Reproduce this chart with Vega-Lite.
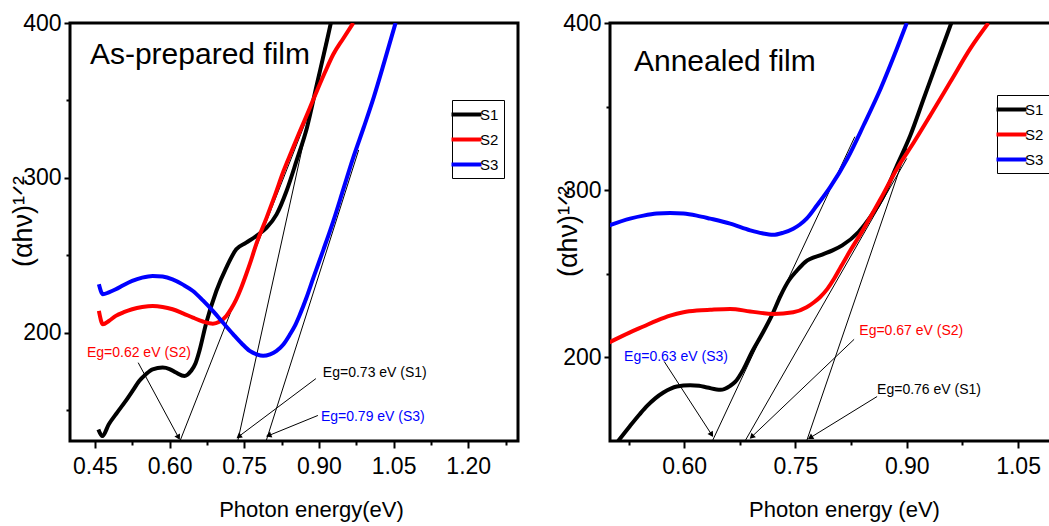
{
  "$schema": "https://vega.github.io/schema/vega-lite/v6.json",
  "background": "white",
  "padding": {"left": 7, "top": 10, "right": 0, "bottom": 0},
  "spacing": 32,
  "config": {
    "view": {"stroke": "black", "strokeWidth": 3},
    "font": "Liberation Sans",
    "axis": {"grid": false, "domain": false, "tickColor": "black", "tickWidth": 2, "labelColor": "black", "labelFont": "Liberation Sans", "labelFontSize": 23, "labelOverlap": false, "titleColor": "black", "titleFontWeight": "normal"}
  },
  "resolve": {"scale": {"color": "independent"}, "legend": {"color": "independent"}},
  "datasets": {
    "lc": [
      {"s":"S1","E":0.457,"v":137.5},{"s":"S1","E":0.465,"v":133.2},{"s":"S1","E":0.478,"v":140.8},{"s":"S1","E":0.495,"v":148.5},{"s":"S1","E":0.512,"v":155.9},{"s":"S1","E":0.526,"v":162.5},{"s":"S1","E":0.539,"v":168.8},{"s":"S1","E":0.552,"v":173},{"s":"S1","E":0.566,"v":176.3},{"s":"S1","E":0.586,"v":177.4},{"s":"S1","E":0.6,"v":176.5},{"s":"S1","E":0.613,"v":174.2},{"s":"S1","E":0.63,"v":172},{"s":"S1","E":0.643,"v":175.2},{"s":"S1","E":0.652,"v":180},{"s":"S1","E":0.66,"v":188.2},{"s":"S1","E":0.673,"v":205.4},{"s":"S1","E":0.694,"v":226.9},{"s":"S1","E":0.714,"v":242},{"s":"S1","E":0.734,"v":253.8},{"s":"S1","E":0.754,"v":258.1},{"s":"S1","E":0.774,"v":262.4},{"s":"S1","E":0.795,"v":267.8},{"s":"S1","E":0.815,"v":276.4},{"s":"S1","E":0.835,"v":291.5},{"s":"S1","E":0.855,"v":310.9},{"s":"S1","E":0.876,"v":332.4},{"s":"S1","E":0.896,"v":360.4},{"s":"S1","E":0.916,"v":388.4},{"s":"S1","E":0.924,"v":400},
      {"s":"S2","E":0.458,"v":214},{"s":"S2","E":0.466,"v":205.4},{"s":"S2","E":0.478,"v":207.5},{"s":"S2","E":0.492,"v":210.8},{"s":"S2","E":0.508,"v":213.2},{"s":"S2","E":0.525,"v":215.1},{"s":"S2","E":0.545,"v":216.5},{"s":"S2","E":0.566,"v":217.2},{"s":"S2","E":0.586,"v":216.6},{"s":"S2","E":0.606,"v":215.1},{"s":"S2","E":0.627,"v":212.5},{"s":"S2","E":0.647,"v":209.7},{"s":"S2","E":0.667,"v":207.2},{"s":"S2","E":0.687,"v":205.8},{"s":"S2","E":0.7,"v":207},{"s":"S2","E":0.714,"v":210.8},{"s":"S2","E":0.724,"v":215.5},{"s":"S2","E":0.734,"v":221.5},{"s":"S2","E":0.744,"v":229},{"s":"S2","E":0.754,"v":237.7},{"s":"S2","E":0.764,"v":247},{"s":"S2","E":0.774,"v":257},{"s":"S2","E":0.795,"v":274.3},{"s":"S2","E":0.812,"v":289},{"s":"S2","E":0.829,"v":304.4},{"s":"S2","E":0.845,"v":317},{"s":"S2","E":0.862,"v":330.2},{"s":"S2","E":0.879,"v":343},{"s":"S2","E":0.896,"v":356.1},{"s":"S2","E":0.912,"v":368},{"s":"S2","E":0.929,"v":379.8},{"s":"S2","E":0.949,"v":390},{"s":"S2","E":0.969,"v":400},
      {"s":"S3","E":0.458,"v":231.2},{"s":"S3","E":0.466,"v":224.8},{"s":"S3","E":0.478,"v":226},{"s":"S3","E":0.492,"v":228},{"s":"S3","E":0.508,"v":230.8},{"s":"S3","E":0.525,"v":233.4},{"s":"S3","E":0.545,"v":235.5},{"s":"S3","E":0.566,"v":236.6},{"s":"S3","E":0.586,"v":236.2},{"s":"S3","E":0.606,"v":234.4},{"s":"S3","E":0.627,"v":231},{"s":"S3","E":0.647,"v":226.9},{"s":"S3","E":0.667,"v":220.8},{"s":"S3","E":0.687,"v":214},{"s":"S3","E":0.708,"v":206.2},{"s":"S3","E":0.728,"v":198.9},{"s":"S3","E":0.745,"v":193},{"s":"S3","E":0.761,"v":188.2},{"s":"S3","E":0.775,"v":186},{"s":"S3","E":0.788,"v":185},{"s":"S3","E":0.802,"v":186},{"s":"S3","E":0.815,"v":188.2},{"s":"S3","E":0.829,"v":192.5},{"s":"S3","E":0.842,"v":198.9},{"s":"S3","E":0.852,"v":204.5},{"s":"S3","E":0.862,"v":211.8},{"s":"S3","E":0.875,"v":222.5},{"s":"S3","E":0.889,"v":235.5},{"s":"S3","E":0.909,"v":253.5},{"s":"S3","E":0.929,"v":272.1},{"s":"S3","E":0.949,"v":292.5},{"s":"S3","E":0.969,"v":313},{"s":"S3","E":0.99,"v":332.5},{"s":"S3","E":1.01,"v":351.8},{"s":"S3","E":1.032,"v":375.5},{"s":"S3","E":1.054,"v":400}
    ],
    "rc": [
      {"s":"S1","E":0.511,"v":150},{"s":"S1","E":0.527,"v":159},{"s":"S1","E":0.54,"v":166},{"s":"S1","E":0.55,"v":171},{"s":"S1","E":0.561,"v":175.5},{"s":"S1","E":0.572,"v":179},{"s":"S1","E":0.59,"v":182.6},{"s":"S1","E":0.608,"v":183.4},{"s":"S1","E":0.62,"v":183},{"s":"S1","E":0.631,"v":182},{"s":"S1","E":0.649,"v":180.6},{"s":"S1","E":0.662,"v":183},{"s":"S1","E":0.669,"v":185.5},{"s":"S1","E":0.68,"v":193},{"s":"S1","E":0.691,"v":203},{"s":"S1","E":0.705,"v":214},{"s":"S1","E":0.718,"v":225},{"s":"S1","E":0.73,"v":237},{"s":"S1","E":0.741,"v":246},{"s":"S1","E":0.752,"v":252},{"s":"S1","E":0.763,"v":257},{"s":"S1","E":0.786,"v":261.5},{"s":"S1","E":0.8,"v":264},{"s":"S1","E":0.813,"v":267},{"s":"S1","E":0.835,"v":275},{"s":"S1","E":0.851,"v":284},{"s":"S1","E":0.869,"v":297},{"s":"S1","E":0.887,"v":315},{"s":"S1","E":0.905,"v":333},{"s":"S1","E":0.923,"v":355},{"s":"S1","E":0.941,"v":377},{"s":"S1","E":0.96,"v":400},
      {"s":"S2","E":0.499,"v":209},{"s":"S2","E":0.527,"v":215},{"s":"S2","E":0.545,"v":218.5},{"s":"S2","E":0.563,"v":222},{"s":"S2","E":0.581,"v":225},{"s":"S2","E":0.599,"v":227},{"s":"S2","E":0.617,"v":228},{"s":"S2","E":0.635,"v":228.5},{"s":"S2","E":0.662,"v":229},{"s":"S2","E":0.689,"v":227.5},{"s":"S2","E":0.72,"v":226},{"s":"S2","E":0.747,"v":227},{"s":"S2","E":0.765,"v":230},{"s":"S2","E":0.775,"v":233},{"s":"S2","E":0.783,"v":236},{"s":"S2","E":0.793,"v":241},{"s":"S2","E":0.802,"v":247},{"s":"S2","E":0.811,"v":254},{"s":"S2","E":0.82,"v":261},{"s":"S2","E":0.842,"v":277},{"s":"S2","E":0.865,"v":295},{"s":"S2","E":0.887,"v":313},{"s":"S2","E":0.91,"v":329},{"s":"S2","E":0.932,"v":345},{"s":"S2","E":0.959,"v":365},{"s":"S2","E":0.986,"v":385},{"s":"S2","E":1.01,"v":400},
      {"s":"S3","E":0.499,"v":279},{"s":"S3","E":0.527,"v":283},{"s":"S3","E":0.545,"v":284.8},{"s":"S3","E":0.563,"v":286},{"s":"S3","E":0.581,"v":286.3},{"s":"S3","E":0.599,"v":286},{"s":"S3","E":0.617,"v":284.8},{"s":"S3","E":0.635,"v":283},{"s":"S3","E":0.662,"v":280},{"s":"S3","E":0.689,"v":276},{"s":"S3","E":0.705,"v":274.2},{"s":"S3","E":0.72,"v":273.3},{"s":"S3","E":0.733,"v":274.5},{"s":"S3","E":0.747,"v":277},{"s":"S3","E":0.756,"v":279.5},{"s":"S3","E":0.765,"v":283},{"s":"S3","E":0.779,"v":291},{"s":"S3","E":0.797,"v":302},{"s":"S3","E":0.82,"v":319},{"s":"S3","E":0.842,"v":339},{"s":"S3","E":0.865,"v":361},{"s":"S3","E":0.887,"v":385},{"s":"S3","E":0.9,"v":400}
    ],
    "lt": [
      {"x1":0.621,"y1":130,"x2":0.927,"y2":380},
      {"x1":0.737,"y1":130,"x2":0.915,"y2":390},
      {"x1":0.794,"y1":130,"x2":0.98,"y2":318}
    ],
    "rt": [
      {"x1":0.638,"y1":150,"x2":0.83,"y2":332},
      {"x1":0.682,"y1":150,"x2":0.9,"y2":319},
      {"x1":0.765,"y1":150,"x2":0.9,"y2":325}
    ],
    "la": [
      {"id":"S2","x1":0.537,"y1":180.6,"x2":0.618,"y2":132.3},
      {"id":"S1","x1":0.894,"y1":170.3,"x2":0.739,"y2":132.9},
      {"id":"S3","x1":0.898,"y1":146.5,"x2":0.799,"y2":133.5}
    ],
    "ra": [
      {"id":"S3","x1":0.573,"y1":197.6,"x2":0.637,"y2":153.8},
      {"id":"S2","x1":0.829,"y1":210.8,"x2":0.691,"y2":152.5},
      {"id":"S1","x1":0.86,"y1":176.6,"x2":0.77,"y2":152}
    ],
    "ll": [
      {"s":"S2","t":"Eg=0.62 eV (S2)","E":0.434,"v":187},
      {"s":"S1","t":"Eg=0.73 eV (S1)","E":0.908,"v":174.2},
      {"s":"S3","t":"Eg=0.79 eV (S3)","E":0.904,"v":145.2}
    ],
    "rl": [
      {"s":"S3","t":"Eg=0.63 eV (S3)","E":0.519,"v":200.3},
      {"s":"S2","t":"Eg=0.67 eV (S2)","E":0.836,"v":215.6},
      {"s":"S1","t":"Eg=0.76 eV (S1)","E":0.86,"v":180.8}
    ]
  },
  "hconcat": [
    {
      "width": 448,
      "height": 418,
      "layer": [
        {"data": {"name": "lt"}, "mark": {"type": "rule", "color": "black", "strokeWidth": 1},
         "encoding": {"x": {"field": "x1", "type": "quantitative", "scale": {"domain": [0.4, 1.3], "nice": false, "zero": false}},
                      "y": {"field": "y1", "type": "quantitative", "scale": {"domain": [130, 400], "nice": false, "zero": false}},
                      "x2": {"field": "x2"}, "y2": {"field": "y2"}}},
        {"data": {"name": "la"}, "mark": {"type": "rule", "color": "black", "strokeWidth": 1},
         "encoding": {"x": {"field": "x1", "type": "quantitative", "scale": {"domain": [0.4, 1.3], "nice": false, "zero": false}},
                      "y": {"field": "y1", "type": "quantitative", "scale": {"domain": [130, 400], "nice": false, "zero": false}},
                      "x2": {"field": "x2"}, "y2": {"field": "y2"}}},
        {"data": {"name": "la"}, "transform": [{"filter": "datum.id == 'S2'"}], "mark": {"type": "point", "shape": "triangle-right", "filled": true, "color": "black", "opacity": 1, "size": 40, "angle": 62},
         "encoding": {"x": {"field": "x2", "type": "quantitative", "scale": {"domain": [0.4, 1.3], "nice": false, "zero": false}},
                      "y": {"field": "y2", "type": "quantitative", "scale": {"domain": [130, 400], "nice": false, "zero": false}}}},
        {"data": {"name": "la"}, "transform": [{"filter": "datum.id == 'S1'"}], "mark": {"type": "point", "shape": "triangle-right", "filled": true, "color": "black", "opacity": 1, "size": 40, "angle": 143},
         "encoding": {"x": {"field": "x2", "type": "quantitative", "scale": {"domain": [0.4, 1.3], "nice": false, "zero": false}},
                      "y": {"field": "y2", "type": "quantitative", "scale": {"domain": [130, 400], "nice": false, "zero": false}}}},
        {"data": {"name": "la"}, "transform": [{"filter": "datum.id == 'S3'"}], "mark": {"type": "point", "shape": "triangle-right", "filled": true, "color": "black", "opacity": 1, "size": 40, "angle": 158},
         "encoding": {"x": {"field": "x2", "type": "quantitative", "scale": {"domain": [0.4, 1.3], "nice": false, "zero": false}},
                      "y": {"field": "y2", "type": "quantitative", "scale": {"domain": [130, 400], "nice": false, "zero": false}}}},
        {"data": {"name": "lc"}, "mark": {"type": "line", "strokeWidth": 4, "interpolate": "monotone", "clip": true},
         "encoding": {
           "x": {"field": "E", "type": "quantitative", "scale": {"domain": [0.4, 1.3], "nice": false, "zero": false},
                 "axis": {"values": [0.45, 0.525, 0.6, 0.675, 0.75, 0.825, 0.9, 0.975, 1.05, 1.125, 1.2, 1.275], "format": ".2f",
                          "labelExpr": "round(datum.value*200) % 30 == 0 ? datum.label : ''",
                          "tickSize": {"condition": {"test": "round(datum.value*200) % 30 == 0", "value": 7}, "value": 4},
                          "labelPadding": 7, "title": "Photon energy(eV)", "titleFont": "Liberation Sans", "titleFontSize": 22,
                          "titleX": 241, "titleY": 75, "titleBaseline": "alphabetic", "titleAlign": "center"}},
           "y": {"field": "v", "type": "quantitative", "scale": {"domain": [130, 400], "nice": false, "zero": false},
                 "axis": {"values": [150, 200, 250, 300, 350, 400],
                          "labelExpr": "datum.value % 100 == 0 ? datum.label : ''",
                          "tickSize": {"condition": {"test": "datum.value % 100 == 0", "value": 6}, "value": 4},
                          "labelPadding": 3, "title": "(αhν)¹ᐟ²", "titleFont": "Liberation Sans", "titleFontSize": 27,
                          "titleX": -47, "titleY": 198, "titleAngle": 270, "titleAlign": "center", "titleBaseline": "middle"}},
           "color": {"field": "s", "type": "nominal", "scale": {"domain": ["S1", "S2", "S3"], "range": ["#000000", "#ff0000", "#0000ff"]},
                     "legend": {"orient": "none", "legendX": 382, "legendY": 77, "title": null, "symbolType": "M-2,0H2", "symbolSize": 225, "symbolStrokeWidth": 4,
                                "labelFont": "Liberation Sans", "labelFontSize": 15, "labelColor": "black", "labelOffset": 4,
                                "strokeColor": "black", "fillColor": "white", "padding": 5, "rowPadding": 7}}
         }},
        {"data": {"name": "ll"}, "mark": {"type": "text", "align": "left", "baseline": "middle", "fontSize": 14, "font": "Liberation Sans"},
         "encoding": {"x": {"field": "E", "type": "quantitative", "scale": {"domain": [0.4, 1.3], "nice": false, "zero": false}},
                      "y": {"field": "v", "type": "quantitative", "scale": {"domain": [130, 400], "nice": false, "zero": false}},
                      "text": {"field": "t"},
                      "color": {"field": "s", "type": "nominal", "scale": {"domain": ["S1", "S2", "S3"], "range": ["#000000", "#ff0000", "#0000ff"]}, "legend": null}}},
        {"data": {"values": [{"t": "As-prepared film", "E": 0.44, "v": 373.5}]}, "mark": {"type": "text", "align": "left", "baseline": "alphabetic", "fontSize": 30, "font": "Liberation Sans", "color": "black"},
         "encoding": {"x": {"field": "E", "type": "quantitative", "scale": {"domain": [0.4, 1.3], "nice": false, "zero": false}},
                      "y": {"field": "v", "type": "quantitative", "scale": {"domain": [130, 400], "nice": false, "zero": false}},
                      "text": {"field": "t"}}}
      ]
    },
    {
      "width": 460,
      "height": 418,
      "layer": [
        {"data": {"name": "rt"}, "mark": {"type": "rule", "color": "black", "strokeWidth": 1},
         "encoding": {"x": {"field": "x1", "type": "quantitative", "scale": {"domain": [0.5, 1.12], "nice": false, "zero": false}},
                      "y": {"field": "y1", "type": "quantitative", "scale": {"domain": [150, 400], "nice": false, "zero": false}},
                      "x2": {"field": "x2"}, "y2": {"field": "y2"}}},
        {"data": {"name": "ra"}, "mark": {"type": "rule", "color": "black", "strokeWidth": 1},
         "encoding": {"x": {"field": "x1", "type": "quantitative", "scale": {"domain": [0.5, 1.12], "nice": false, "zero": false}},
                      "y": {"field": "y1", "type": "quantitative", "scale": {"domain": [150, 400], "nice": false, "zero": false}},
                      "x2": {"field": "x2"}, "y2": {"field": "y2"}}},
        {"data": {"name": "ra"}, "transform": [{"filter": "datum.id == 'S3'"}], "mark": {"type": "point", "shape": "triangle-right", "filled": true, "color": "black", "opacity": 1, "size": 40, "angle": 57},
         "encoding": {"x": {"field": "x2", "type": "quantitative", "scale": {"domain": [0.5, 1.12], "nice": false, "zero": false}},
                      "y": {"field": "y2", "type": "quantitative", "scale": {"domain": [150, 400], "nice": false, "zero": false}}}},
        {"data": {"name": "ra"}, "transform": [{"filter": "datum.id == 'S2'"}], "mark": {"type": "point", "shape": "triangle-right", "filled": true, "color": "black", "opacity": 1, "size": 40, "angle": 136},
         "encoding": {"x": {"field": "x2", "type": "quantitative", "scale": {"domain": [0.5, 1.12], "nice": false, "zero": false}},
                      "y": {"field": "y2", "type": "quantitative", "scale": {"domain": [150, 400], "nice": false, "zero": false}}}},
        {"data": {"name": "ra"}, "transform": [{"filter": "datum.id == 'S1'"}], "mark": {"type": "point", "shape": "triangle-right", "filled": true, "color": "black", "opacity": 1, "size": 40, "angle": 148},
         "encoding": {"x": {"field": "x2", "type": "quantitative", "scale": {"domain": [0.5, 1.12], "nice": false, "zero": false}},
                      "y": {"field": "y2", "type": "quantitative", "scale": {"domain": [150, 400], "nice": false, "zero": false}}}},
        {"data": {"name": "rc"}, "mark": {"type": "line", "strokeWidth": 4, "interpolate": "monotone", "clip": true},
         "encoding": {
           "x": {"field": "E", "type": "quantitative", "scale": {"domain": [0.5, 1.12], "nice": false, "zero": false},
                 "axis": {"values": [0.525, 0.6, 0.675, 0.75, 0.825, 0.9, 0.975, 1.05], "format": ".2f",
                          "labelExpr": "round(datum.value*200) % 30 == 0 ? datum.label : ''",
                          "tickSize": {"condition": {"test": "round(datum.value*200) % 30 == 0", "value": 7}, "value": 4},
                          "labelPadding": 7, "title": "Photon energy (eV)", "titleFont": "Liberation Sans", "titleFontSize": 22,
                          "titleX": 234, "titleY": 75, "titleBaseline": "alphabetic", "titleAlign": "center"}},
           "y": {"field": "v", "type": "quantitative", "scale": {"domain": [150, 400], "nice": false, "zero": false},
                 "axis": {"values": [200, 250, 300, 350, 400],
                          "labelExpr": "datum.value % 100 == 0 ? datum.label : ''",
                          "tickSize": {"condition": {"test": "datum.value % 100 == 0", "value": 6}, "value": 4},
                          "labelPadding": 3, "title": "(αhν)¹ᐟ²", "titleFont": "Liberation Sans", "titleFontSize": 27,
                          "titleX": -42, "titleY": 208, "titleAngle": 270, "titleAlign": "center", "titleBaseline": "middle"}},
           "color": {"field": "s", "type": "nominal", "scale": {"domain": ["S1", "S2", "S3"], "range": ["#000000", "#ff0000", "#0000ff"]},
                     "legend": {"orient": "none", "legendX": 387, "legendY": 72, "title": null, "symbolType": "M-2,0H2", "symbolSize": 225, "symbolStrokeWidth": 4,
                                "labelFont": "Liberation Sans", "labelFontSize": 15, "labelColor": "black", "labelOffset": 4,
                                "strokeColor": "black", "fillColor": "white", "padding": 5, "rowPadding": 7}}
         }},
        {"data": {"name": "rl"}, "mark": {"type": "text", "align": "left", "baseline": "middle", "fontSize": 14, "font": "Liberation Sans"},
         "encoding": {"x": {"field": "E", "type": "quantitative", "scale": {"domain": [0.5, 1.12], "nice": false, "zero": false}},
                      "y": {"field": "v", "type": "quantitative", "scale": {"domain": [150, 400], "nice": false, "zero": false}},
                      "text": {"field": "t"},
                      "color": {"field": "s", "type": "nominal", "scale": {"domain": ["S1", "S2", "S3"], "range": ["#000000", "#ff0000", "#0000ff"]}, "legend": null}}},
        {"data": {"values": [{"t": "Annealed film", "E": 0.5323, "v": 371.2}]}, "mark": {"type": "text", "align": "left", "baseline": "alphabetic", "fontSize": 30, "font": "Liberation Sans", "color": "black"},
         "encoding": {"x": {"field": "E", "type": "quantitative", "scale": {"domain": [0.5, 1.12], "nice": false, "zero": false}},
                      "y": {"field": "v", "type": "quantitative", "scale": {"domain": [150, 400], "nice": false, "zero": false}},
                      "text": {"field": "t"}}}
      ]
    }
  ]
}
